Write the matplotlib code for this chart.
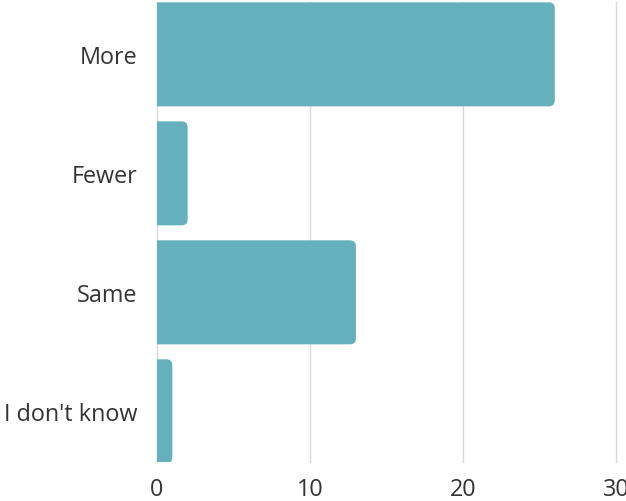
import matplotlib
matplotlib.use("Agg")
import matplotlib.pyplot as plt
from matplotlib.patches import PathPatch
from matplotlib.path import Path

categories = ["More", "Fewer", "Same", "I don't know"]
values = [26, 2, 13, 1]
x_ticks = [0, 10, 20, 30]

bar_color = "#64b0bc"
text_color = "#333333"
grid_color = "#d9d9d9"

W, H = 626, 502
fig = plt.figure(figsize=(W / 100, H / 100), dpi=100)
left, right = 157 / W, 616 / W
top, bottom = 3 / H, 463 / H
ax = fig.add_axes([left, 1 - bottom, right - left, bottom - top])

x_max = 30
y_top, y_bot = -0.44, 3.426
ax.set_xlim(0, x_max)
ax.set_ylim(y_bot, y_top)

ax_w_px = (right - left) * W
ax_h_px = (bottom - top) * H
x_per_px = x_max / ax_w_px
y_per_px = (y_bot - y_top) / ax_h_px


def right_rounded_bar(width, y0, height, radius_px=6):
    """Bar from x=0 with square left end and rounded right corners."""
    rx = min(radius_px * x_per_px, width / 2)
    ry = radius_px * y_per_px
    y1 = y0 + height
    verts = [
        (0, y0),
        (width - rx, y0),
        (width, y0), (width, y0 + ry),
        (width, y1 - ry),
        (width, y1), (width - rx, y1),
        (0, y1),
        (0, y0),
    ]
    codes = [Path.MOVETO, Path.LINETO, Path.CURVE3, Path.CURVE3, Path.LINETO,
             Path.CURVE3, Path.CURVE3, Path.LINETO, Path.CLOSEPOLY]
    return PathPatch(Path(verts, codes), facecolor=bar_color,
                     edgecolor="none", zorder=3)


bar_h = 0.874
for i, v in enumerate(values):
    ax.add_patch(right_rounded_bar(v, i - bar_h / 2, bar_h))

ax.set_yticks(range(len(categories)))
ax.set_yticklabels(categories)
ax.set_xticks(x_ticks)
ax.set_xticklabels([str(t) for t in x_ticks])

for t in x_ticks:
    ax.axvline(t, color=grid_color, linewidth=1, zorder=1, clip_on=False)

for s in ax.spines.values():
    s.set_visible(False)
ax.tick_params(axis="both", length=0, colors=text_color, labelsize=16.8)
ax.tick_params(axis="y", pad=14)
ax.tick_params(axis="x", pad=11)
for lbl in ax.get_xticklabels() + ax.get_yticklabels():
    lbl.set_fontfamily(["Open Sans", "DejaVu Sans"])

fig.savefig("out.png", dpi=100)
